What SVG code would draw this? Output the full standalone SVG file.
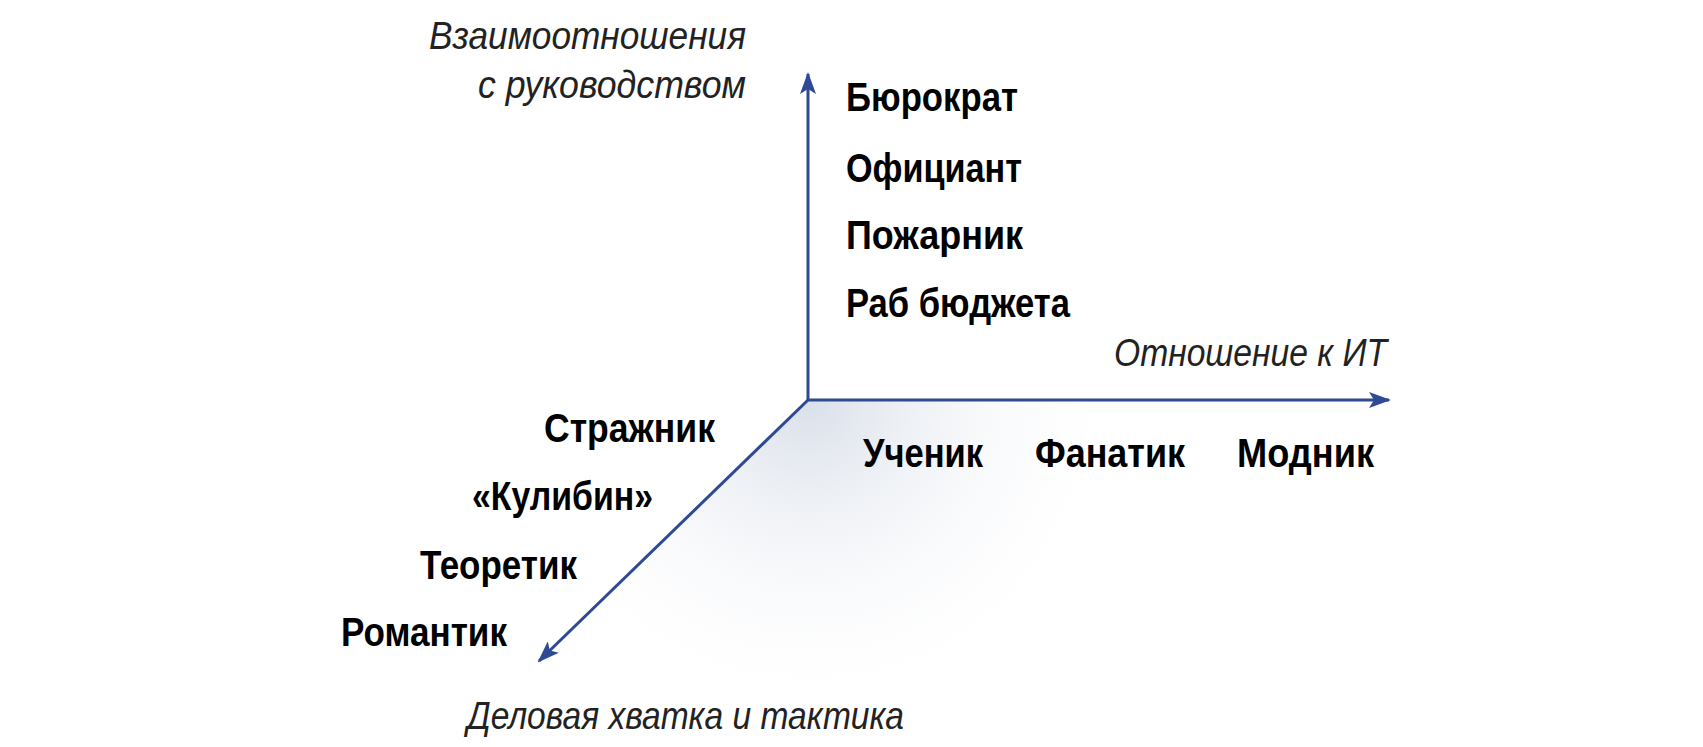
<svg xmlns="http://www.w3.org/2000/svg" width="1703" height="747" viewBox="0 0 1703 747">
<style>
.b{font-family:"Liberation Sans",Arial,sans-serif;font-weight:bold;font-size:41px;fill:#000}
.i{font-family:"Liberation Sans",Arial,sans-serif;font-style:italic;font-size:39px;fill:#222}
.ax{stroke:#2e4a94;stroke-width:3;fill:none}
</style>
<defs>
<marker id="ar" markerWidth="22" markerHeight="16" refX="20" refY="8" orient="auto" markerUnits="userSpaceOnUse" viewBox="0 0 22 16"><path d="M0,0 L22,8 L0,16 L5,8 Z" fill="#2e4a94"/></marker>
<radialGradient id="g" cx="808" cy="400" r="320" gradientUnits="userSpaceOnUse"><stop offset="0" stop-color="#d5dce7" stop-opacity="0.9"/><stop offset="1" stop-color="#ffffff" stop-opacity="0"/></radialGradient>
</defs>
<rect width="1703" height="747" fill="#fff"/>
<polygon points="808,400 1389,400 1389,747 520,747 539,661" fill="url(#g)"/>
<g id="connectors">
<line class="ax" x1="808" y1="400" x2="808" y2="74" marker-end="url(#ar)"/>
<line class="ax" x1="808" y1="400" x2="1389" y2="400" marker-end="url(#ar)"/>
<line class="ax" x1="808" y1="400" x2="539" y2="661" marker-end="url(#ar)"/>
</g>
<g id="axis-labels">
<text class="i" x="746" y="49" text-anchor="end" textLength="317" lengthAdjust="spacingAndGlyphs">Взаимоотношения</text>
<text class="i" x="746" y="98" text-anchor="end" textLength="268" lengthAdjust="spacingAndGlyphs">с руководством</text>
<text class="i" x="1114" y="366" textLength="273" lengthAdjust="spacingAndGlyphs">Отношение к ИТ</text>
<text class="i" x="467" y="729" textLength="437" lengthAdjust="spacingAndGlyphs">Деловая хватка и тактика</text>
</g>
<g id="vertical-items">
<text class="b" x="846" y="111" textLength="172" lengthAdjust="spacingAndGlyphs">Бюрократ</text>
<text class="b" x="846" y="182" textLength="176" lengthAdjust="spacingAndGlyphs">Официант</text>
<text class="b" x="846" y="249" textLength="177" lengthAdjust="spacingAndGlyphs">Пожарник</text>
<text class="b" x="846" y="317" textLength="224" lengthAdjust="spacingAndGlyphs">Раб бюджета</text>
</g>
<g id="horizontal-items">
<text class="b" x="863" y="467" textLength="120" lengthAdjust="spacingAndGlyphs">Ученик</text>
<text class="b" x="1035" y="467" textLength="150" lengthAdjust="spacingAndGlyphs">Фанатик</text>
<text class="b" x="1237" y="467" textLength="137" lengthAdjust="spacingAndGlyphs">Модник</text>
</g>
<g id="diagonal-items">
<text class="b" x="544" y="442" textLength="171" lengthAdjust="spacingAndGlyphs">Стражник</text>
<text class="b" x="472" y="510" textLength="181" lengthAdjust="spacingAndGlyphs">«Кулибин»</text>
<text class="b" x="420" y="579" textLength="157" lengthAdjust="spacingAndGlyphs">Теоретик</text>
<text class="b" x="341" y="646" textLength="166" lengthAdjust="spacingAndGlyphs">Романтик</text>
</g>
</svg>
